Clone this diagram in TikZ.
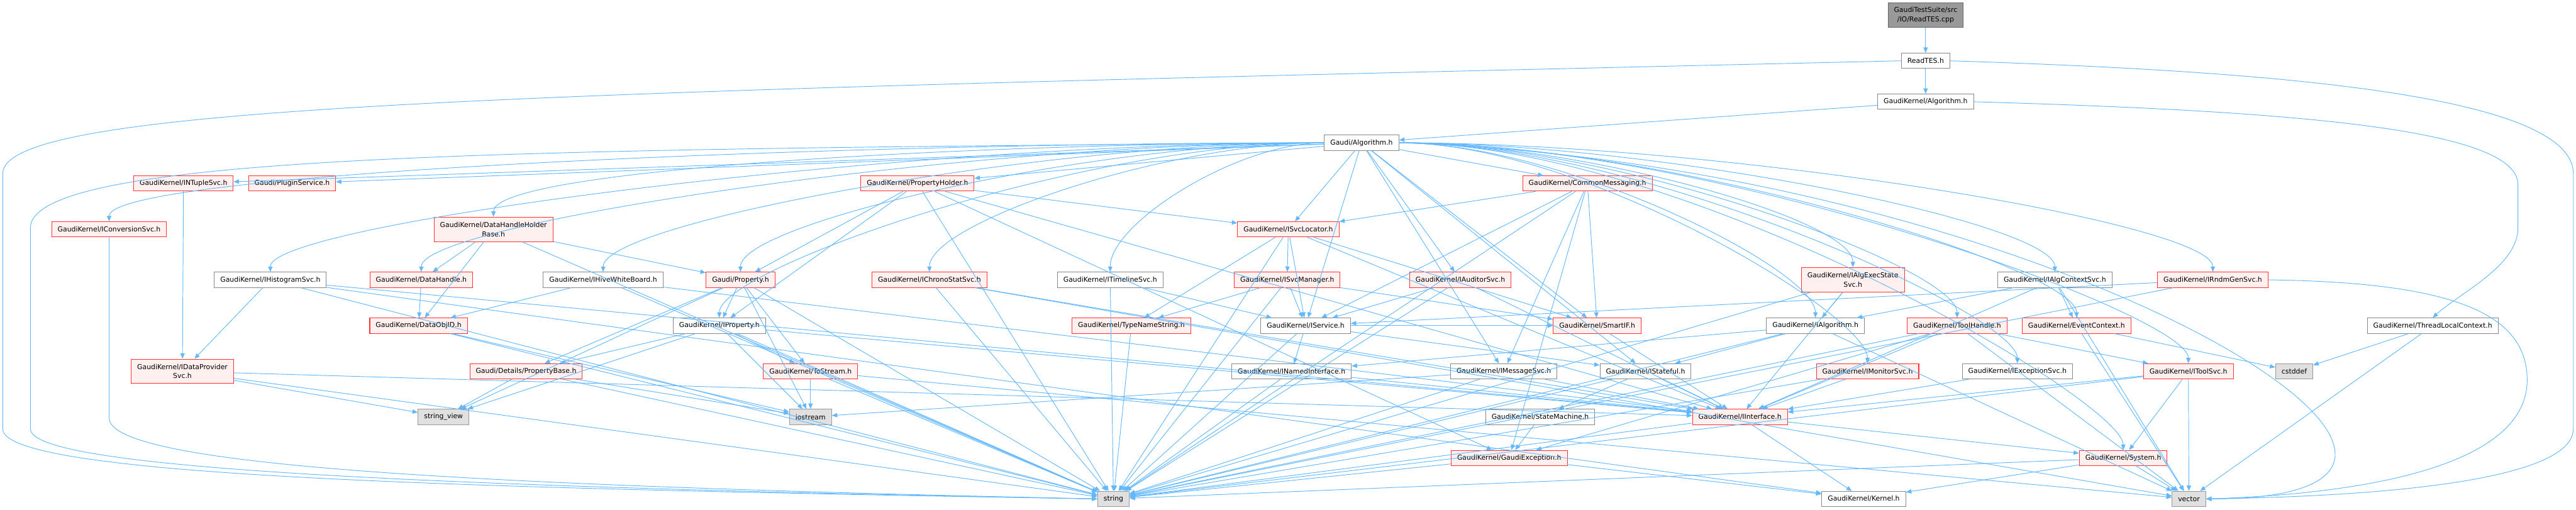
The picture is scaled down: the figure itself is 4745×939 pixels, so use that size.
\documentclass[tikz,border=0pt]{standalone}
\usepackage{fontspec}
\setmainfont{DejaVu Sans}
\usetikzlibrary{arrows.meta}

\definecolor{inclblue}{HTML}{63B8FF}
\definecolor{boxgray}{HTML}{888888}
\definecolor{rootline}{HTML}{666666}
\definecolor{rootfill}{HTML}{999999}
\definecolor{partred}{HTML}{FF3333}
\definecolor{partfill}{HTML}{FFF0F0}
\definecolor{sysline}{HTML}{999999}
\definecolor{sysfill}{HTML}{E0E0E0}

\begin{document}
\begin{tikzpicture}[x=0.5pt, y=-0.5pt,
    hdr/.style={rectangle, draw=boxgray, fill=white, line width=0.6pt,
        font=\fontsize{6.3}{8.5}\selectfont, align=center,
        inner xsep=5.5pt, inner ysep=2pt, minimum height=14pt},
    partial/.style={hdr, draw=partred, fill=partfill},
    sys/.style={hdr, draw=sysline, fill=sysfill},
    root/.style={hdr, draw=rootline, fill=rootfill},
    twoline/.style={minimum height=22.5pt},
    incl/.style={draw=inclblue, line width=0.55pt, -{Triangle[length=5pt,width=4pt]}}]
    \useasboundingbox (0,0) rectangle (4745,939);

    % the file and its own header
    \node[root, twoline] (readcpp) at (3547,27.5) {GaudiTestSuite/src\\/IO/ReadTES.cpp};
    \node[hdr] (readh) at (3547,112) {ReadTES.h};
    \node[hdr] (gkalg) at (3547,187.5) {GaudiKernel/Algorithm.h};
    \node[hdr] (galg) at (2508,263) {Gaudi/Algorithm.h};

    % first level below Gaudi/Algorithm.h
    \node[partial] (ntuple) at (338,338) {GaudiKernel/INTupleSvc.h};
    \node[partial] (plugin) at (538,338) {Gaudi/PluginService.h};
    \node[partial] (propholder) at (1690,338) {GaudiKernel/PropertyHolder.h};
    \node[partial] (commsg) at (2924,338) {GaudiKernel/CommonMessaging.h};

    \node[partial] (convsvc) at (201,422.5) {GaudiKernel/IConversionSvc.h};
    \node[partial, twoline] (dhhb) at (909,422.5) {GaudiKernel/DataHandleHolder\\Base.h};
    \node[partial] (svcloc) at (2373,422.5) {GaudiKernel/ISvcLocator.h};

    % service interfaces
    \node[hdr] (histsvc) at (498,515.5) {GaudiKernel/IHistogramSvc.h};
    \node[partial] (dhandle) at (776,515.5) {GaudiKernel/DataHandle.h};
    \node[hdr] (hive) at (1111,515.5) {GaudiKernel/IHiveWhiteBoard.h};
    \node[partial] (prop) at (1364,515.5) {Gaudi/Property.h};
    \node[partial] (chrono) at (1712,515.5) {GaudiKernel/IChronoStatSvc.h};
    \node[hdr] (timeline) at (2045,515.5) {GaudiKernel/ITimelineSvc.h};
    \node[partial] (svcmgr) at (2371,515.5) {GaudiKernel/ISvcManager.h};
    \node[partial] (auditor) at (2690,515.5) {GaudiKernel/IAuditorSvc.h};
    \node[partial, twoline] (execstate) at (3413,515.5) {GaudiKernel/IAlgExecState\\Svc.h};
    \node[hdr] (algctx) at (3785,515.5) {GaudiKernel/IAlgContextSvc.h};
    \node[partial] (rndm) at (4076,515.5) {GaudiKernel/IRndmGenSvc.h};

    \node[partial] (dataobjid) at (771,600) {GaudiKernel/DataObjID.h};
    \node[hdr] (iprop) at (1325,600) {GaudiKernel/IProperty.h};
    \node[partial] (typename) at (2084,600) {GaudiKernel/TypeNameString.h};
    \node[hdr] (iservice) at (2405,600) {GaudiKernel/IService.h};
    \node[partial] (smartif) at (2942,600) {GaudiKernel/SmartIF.h};
    \node[hdr] (ialg) at (3344,600) {GaudiKernel/IAlgorithm.h};
    \node[partial] (toolhandle) at (3605,600) {GaudiKernel/ToolHandle.h};
    \node[partial] (evctx) at (3825,600) {GaudiKernel/EventContext.h};
    \node[hdr] (tlc) at (4481,600) {GaudiKernel/ThreadLocalContext.h};

    \node[partial, twoline] (dataprov) at (336,684) {GaudiKernel/IDataProvider\\Svc.h};
    \node[partial] (propbase) at (969,684) {Gaudi/Details/PropertyBase.h};
    \node[partial] (tostream) at (1493,684) {GaudiKernel/ToStream.h};
    \node[hdr] (namedif) at (2379,684) {GaudiKernel/INamedInterface.h};
    \node[hdr] (msgsvc) at (2770,684) {GaudiKernel/IMessageSvc.h};
    \node[hdr] (stateful) at (3031,684) {GaudiKernel/IStateful.h};
    \node[partial] (monitor) at (3440,684) {GaudiKernel/IMonitorSvc.h};
    \node[hdr] (excsvc) at (3716,684) {GaudiKernel/IExceptionSvc.h};
    \node[partial] (toolsvc) at (4031,684) {GaudiKernel/IToolSvc.h};
    \node[sys] (cstddef) at (4226,684) {cstddef};

    % basic headers at the bottom
    \node[sys] (stringview) at (817,768) {string\_view};
    \node[sys] (iostream) at (1493,768) {iostream};
    \node[hdr] (statemachine) at (2837,768) {GaudiKernel/StateMachine.h};
    \node[partial] (iinterface) at (3205,768) {GaudiKernel/IInterface.h};
    \node[partial] (gexc) at (2780,843.5) {GaudiKernel/GaudiException.h};
    \node[partial] (system) at (3911,843.5) {GaudiKernel/System.h};
    \node[sys] (string) at (2051,919) {string};
    \node[hdr] (kernel) at (3433,919) {GaudiKernel/Kernel.h};
    \node[sys] (vector) at (4032,919) {vector};

    % top chain
    \draw[incl] (readcpp) -- (readh);
    \draw[incl] (readh) -- (gkalg);
    \draw[incl] (gkalg) -- (galg);
    \draw[incl] (readh.west) .. controls (1000,170) and (5,190) .. (5,320) -- (5,790) .. controls (5,880) and (900,900) .. (string.west);
    \draw[incl] (readh.east) .. controls (4150,130) and (4740,170) .. (4740,320) -- (4740,790) .. controls (4740,890) and (4350,915) .. (vector.east);
    \draw[incl] (gkalg.east) .. controls (4250,205) and (4638,240) .. (4638,340) -- (4638,420) .. controls (4638,490) and (4530,540) .. (tlc.north);

    % Gaudi/Algorithm.h
    \draw[incl] (galg) -- (ntuple);
    \draw[incl] (galg) -- (plugin);
    \draw[incl] (galg) -- (propholder);
    \draw[incl] (galg) -- (commsg);
    \draw[incl] (galg) -- (svcloc);
    \draw[incl] (galg) -- (iservice);
    \draw[incl] (galg) -- (auditor);
    \draw[incl] (galg) -- (smartif);
    \draw[incl] (galg) -- (msgsvc);
    \draw[incl] (galg) -- (stateful);
    \draw[incl] (galg.west) .. controls +(-900,0) and +(0,-90) .. (convsvc.north);
    \draw[incl] (galg.west) .. controls +(-600,0) and +(0,-90) .. (dhhb.north);
    \draw[incl] (galg.west) .. controls +(-780,0) and +(0,-90) .. (histsvc.north);
    \draw[incl] (galg.west) .. controls +(-660,0) and +(0,-90) .. (dhandle.north);
    \draw[incl] (galg.west) .. controls +(-530,0) and +(0,-90) .. (hive.north);
    \draw[incl] (galg.west) .. controls +(-430,0) and +(0,-90) .. (prop.north);
    \draw[incl] (galg.west) .. controls +(-290,0) and +(0,-90) .. (chrono.north);
    \draw[incl] (galg.west) .. controls +(-160,0) and +(0,-90) .. (timeline.north);
    \draw[incl] (galg.west) .. controls +(-450,0) and +(0,-90) .. (iprop.north);
    \draw[incl] (galg.east) .. controls +(330,0) and +(0,-90) .. (execstate.north);
    \draw[incl] (galg.east) .. controls +(480,0) and +(0,-90) .. (algctx.north);
    \draw[incl] (galg.east) .. controls +(600,0) and +(0,-90) .. (rndm.north);
    \draw[incl] (galg.east) .. controls +(300,0) and +(0,-90) .. (ialg.north);
    \draw[incl] (galg.east) .. controls +(410,0) and +(0,-90) .. (toolhandle.north);
    \draw[incl] (galg.east) .. controls +(500,0) and +(0,-90) .. (evctx.north);
    \draw[incl] (galg.east) .. controls +(340,0) and +(0,-90) .. (monitor.north);
    \draw[incl] (galg.east) .. controls +(450,0) and +(0,-90) .. (excsvc.north);
    \draw[incl] (galg.east) .. controls +(580,0) and +(0,-90) .. (toolsvc.north);
    \draw[incl] (galg.east) .. controls +(530,0) and +(0,-90) .. (system.north);
    \draw[incl] (galg.east) .. controls +(1200,40) and +(700,0) .. (vector.east);
    \draw[incl] (galg.west) .. controls (1000,275) and (56,280) .. (56,420) -- (56,790) .. controls (56,860) and (700,895) .. (string.west);

    % first level
    \draw[incl] (ntuple) -- (dataprov);
    \draw[incl] (convsvc.south) -- (201,770) .. controls (201,860) and (900,895) .. (string.west);
    \draw[incl] (propholder) -- (prop);
    \draw[incl] (propholder) -- (iprop);
    \draw[incl] (propholder) -- (svcloc);
    \draw[incl] (propholder) -- (iinterface);
    \draw[incl] (propholder) -- (gexc);
    \draw[incl] (propholder) -- (string);
    \draw[incl] (commsg) -- (svcloc);
    \draw[incl] (commsg) -- (iservice);
    \draw[incl] (commsg) -- (smartif);
    \draw[incl] (commsg) -- (msgsvc);
    \draw[incl] (commsg) -- (gexc);
    \draw[incl] (commsg) -- (string);
    \draw[incl] (dhhb) -- (dhandle);
    \draw[incl] (dhhb) -- (dataobjid);
    \draw[incl] (dhhb) -- (prop);
    \draw[incl] (dhhb) -- (string);
    \draw[incl] (svcloc) -- (svcmgr);
    \draw[incl] (svcloc) -- (iservice);
    \draw[incl] (svcloc) -- (typename);
    \draw[incl] (svcloc) -- (smartif);
    \draw[incl] (svcloc) -- (iinterface);
    \draw[incl] (svcloc) -- (string);

    % service interfaces
    \draw[incl] (histsvc) -- (dataprov);
    \draw[incl] (histsvc) -- (string);
    \draw[incl] (histsvc) -- (iinterface);
    \draw[incl] (histsvc) -- (kernel);
    \draw[incl] (dhandle) -- (dataobjid);
    \draw[incl] (hive) -- (dataobjid);
    \draw[incl] (hive) -- (iinterface);
    \draw[incl] (hive) -- (string);
    \draw[incl] (prop) -- (iprop);
    \draw[incl] (prop) -- (propbase);
    \draw[incl] (prop) -- (tostream);
    \draw[incl] (prop) -- (stringview);
    \draw[incl] (prop) -- (iostream);
    \draw[incl] (prop) -- (string);
    \draw[incl] (chrono) -- (string);
    \draw[incl] (chrono) -- (iinterface);
    \draw[incl] (chrono) -- (vector);
    \draw[incl] (timeline) -- (iservice);
    \draw[incl] (timeline) -- (string);
    \draw[incl] (svcmgr) -- (iservice);
    \draw[incl] (svcmgr) -- (smartif);
    \draw[incl] (svcmgr) -- (typename);
    \draw[incl] (svcmgr) -- (string);
    \draw[incl] (auditor) -- (iservice);
    \draw[incl] (auditor) -- (iinterface);
    \draw[incl] (auditor) -- (string);
    \draw[incl] (execstate) -- (ialg);
    \draw[incl] (execstate) -- (iinterface);
    \draw[incl] (execstate) -- (string);
    \draw[incl] (algctx) -- (ialg);
    \draw[incl] (algctx) -- (evctx);
    \draw[incl] (algctx) -- (iinterface);
    \draw[incl] (algctx) -- (vector);
    \draw[incl] (rndm) -- (iservice);
    \draw[incl] (rndm) -- (string);
    \draw[incl] (rndm.east) .. controls (4500,520) and (4655,570) .. (4655,700) .. controls (4655,860) and (4350,910) .. (vector.east);

    \draw[incl] (dataobjid) -- (iostream);
    \draw[incl] (dataobjid) -- (string);
    \draw[incl] (iprop) -- (propbase);
    \draw[incl] (iprop) -- (tostream);
    \draw[incl] (iprop) -- (iinterface);
    \draw[incl] (iprop) -- (iostream);
    \draw[incl] (iprop) -- (stringview);
    \draw[incl] (iprop) -- (string);
    \draw[incl] (typename) -- (string);
    \draw[incl] (iservice) -- (namedif);
    \draw[incl] (iservice) -- (smartif);
    \draw[incl] (iservice) -- (stateful);
    \draw[incl] (iservice) -- (string);
    \draw[incl] (smartif) -- (iinterface);
    \draw[incl] (ialg) -- (namedif);
    \draw[incl] (ialg) -- (stateful);
    \draw[incl] (ialg) -- (string);
    \draw[incl] (ialg) -- (vector);
    \draw[incl] (toolhandle) -- (iinterface);
    \draw[incl] (toolhandle) -- (toolsvc);
    \draw[incl] (toolhandle) -- (gexc);
    \draw[incl] (toolhandle) -- (string);
    \draw[incl] (toolhandle) -- (vector);
    \draw[incl] (evctx) -- (cstddef);
    \draw[incl] (evctx) -- (vector);
    \draw[incl] (tlc) -- (cstddef);
    \draw[incl] (tlc) -- (vector);

    % lower interfaces
    \draw[incl] (dataprov) -- (stringview);
    \draw[incl] (dataprov) -- (string);
    \draw[incl] (dataprov) -- (iinterface);
    \draw[incl] (propbase) -- (stringview);
    \draw[incl] (propbase) -- (iostream);
    \draw[incl] (propbase) -- (string);
    \draw[incl] (tostream) -- (iostream);
    \draw[incl] (tostream) -- (string);
    \draw[incl] (tostream) -- (vector);
    \draw[incl] (namedif) -- (iinterface);
    \draw[incl] (namedif) -- (string);
    \draw[incl] (msgsvc) -- (iinterface);
    \draw[incl] (msgsvc) -- (string);
    \draw[incl] (msgsvc) -- (iostream);
    \draw[incl] (stateful) -- (statemachine);
    \draw[incl] (stateful) -- (iinterface);
    \draw[incl] (stateful) -- (string);
    \draw[incl] (monitor) -- (iinterface);
    \draw[incl] (monitor) -- (string);
    \draw[incl] (excsvc) -- (iinterface);
    \draw[incl] (toolsvc) -- (system);
    \draw[incl] (toolsvc) -- (vector);
    \draw[incl] (toolsvc) -- (iinterface);
    \draw[incl] (toolsvc) -- (string);

    % bottom
    \draw[incl] (statemachine) -- (gexc);
    \draw[incl] (iinterface) -- (kernel);
    \draw[incl] (iinterface) -- (system);
    \draw[incl] (iinterface) -- (string);
    \draw[incl] (gexc) -- (string);
    \draw[incl] (gexc) -- (kernel);
    \draw[incl] (system) -- (vector);
    \draw[incl] (system) -- (kernel);
    \draw[incl] (system) -- (string);
\end{tikzpicture}
\end{document}
